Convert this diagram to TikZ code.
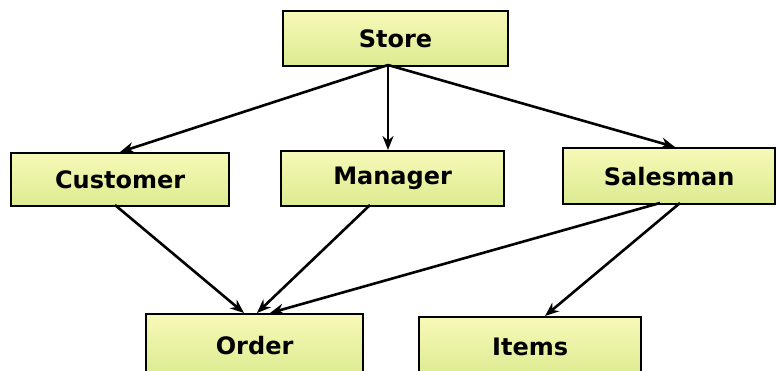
\documentclass[tikz,border=0pt]{standalone}
\usepackage{fontspec}
\setmainfont{DejaVu Sans}
\usetikzlibrary{arrows.meta}
\definecolor{boxtop}{HTML}{F7F9B8}
\definecolor{boxbot}{HTML}{DCEB90}
\begin{document}
\begin{tikzpicture}[x=1pt,y=-1pt,
  ent/.style={draw=black,line width=2.2pt,top color=boxtop,bottom color=boxbot,
    font=\bfseries\fontsize{24}{27}\selectfont,inner sep=0pt,anchor=north west},
  conn/.style={line width=2.6pt,-{Stealth[length=14pt,width=11pt]}}]
\useasboundingbox (0,0) rectangle (780,371);
\node[ent,minimum width=225pt,minimum height=55pt] (store) at (282,10) {Store};
\node[ent,minimum width=218pt,minimum height=53pt] (customer) at (10,152) {Customer};
\node[ent,minimum width=223pt,minimum height=55pt] (manager) at (280,150) {Manager};
\node[ent,minimum width=212pt,minimum height=56pt] (salesman) at (562,147) {Salesman};
\node[ent,minimum width=217pt,minimum height=62pt] (order) at (145,313) {Order};
\node[ent,minimum width=222pt,minimum height=60pt] (items) at (418,316) {Items};
\coordinate (s0) at (388,65);
\draw[conn] (s0) -- (customer.north);
\draw[conn] (s0) -- (388,150);
\draw[conn] (s0) -- (675,147);
\draw[conn] (115,205) -- (244,313);
\draw[conn] (370,205) -- (257,313);
\draw[conn] (660,203) -- (270,313);
\draw[conn] (680,203) -- (545,316);
\end{tikzpicture}
\end{document}
